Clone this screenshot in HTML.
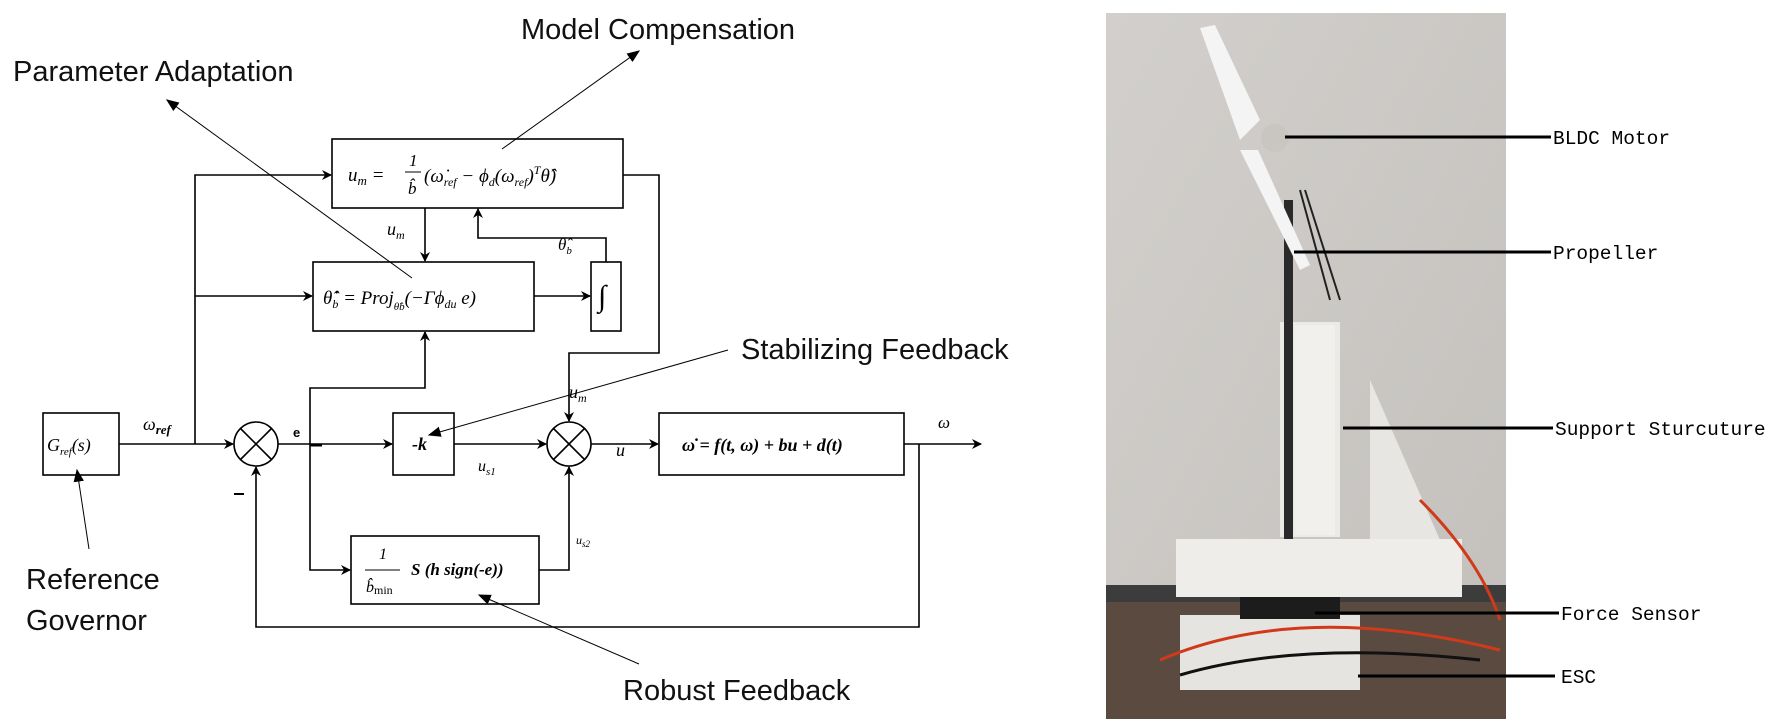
<!DOCTYPE html>
<html><head><meta charset="utf-8"><style>
html,body{margin:0;padding:0;background:#fff;}
svg{display:block;}
.lbl{font-family:"Liberation Sans",sans-serif;font-size:29px;fill:#111;}
.m{font-family:"Liberation Serif",serif;font-style:italic;fill:#000;}
.mono{font-family:"Liberation Mono",monospace;font-size:19.5px;fill:#000;}
</style></head><body>
<svg width="1775" height="724" viewBox="0 0 1775 724" xmlns="http://www.w3.org/2000/svg">
<defs>
<marker id="a" viewBox="0 0 10 10" refX="9" refY="5" markerWidth="10" markerHeight="10" orient="auto" markerUnits="userSpaceOnUse"><path d="M0,0 L10,5 L0,10 L3,5z" fill="#000"/></marker>
<marker id="t" viewBox="0 0 10 10" refX="9" refY="5" markerWidth="13" markerHeight="13" orient="auto" markerUnits="userSpaceOnUse"><path d="M0,1 L10,5 L0,9z" fill="#000"/></marker>
<linearGradient id="wall" x1="0" y1="0" x2="1" y2="1"><stop offset="0" stop-color="#d2cfcc"/><stop offset="1" stop-color="#c3c0bc"/></linearGradient>
</defs>
<text class="lbl" x="521" y="39">Model Compensation</text>
<text class="lbl" x="13" y="81">Parameter Adaptation</text>
<text class="lbl" x="741" y="359">Stabilizing Feedback</text>
<text class="lbl" x="26" y="589">Reference</text>
<text class="lbl" x="26" y="630">Governor</text>
<text class="lbl" x="623" y="700">Robust Feedback</text>
<g stroke="#000" stroke-width="1.6" fill="#fff">
<rect x="332" y="139" width="291" height="69"/>
<rect x="313" y="262" width="221" height="69"/>
<rect x="591" y="262" width="30" height="69"/>
<rect x="43" y="413" width="76" height="62"/>
<rect x="393" y="413" width="61" height="62"/>
<rect x="659" y="413" width="245" height="62"/>
<rect x="351" y="536" width="188" height="68"/>
<circle cx="256" cy="444" r="22"/>
<circle cx="569" cy="444" r="22"/>
</g>
<g stroke="#000" stroke-width="1.6">
<line x1="240" y1="428" x2="272" y2="460"/><line x1="272" y1="428" x2="240" y2="460"/>
<line x1="553" y1="428" x2="585" y2="460"/><line x1="585" y1="428" x2="553" y2="460"/>
</g>
<g stroke="#000" stroke-width="1.6" fill="none" marker-end="url(#a)">
<line x1="119" y1="444" x2="233" y2="444"/>
<polyline points="195,444 195,175 331,175"/>
<line x1="195" y1="296" x2="312" y2="296"/>
<line x1="278" y1="444" x2="392" y2="444"/>
<polyline points="310,444 310,388 425,388 425,332"/>
<polyline points="310,444 310,570 350,570"/>
<line x1="454" y1="444" x2="546" y2="444"/>
<polyline points="623,175 659,175 659,353 569,353 569,421"/>
<line x1="425" y1="208" x2="425" y2="261"/>
<polyline points="606,262 606,238 478,238 478,209"/>
<line x1="534" y1="296" x2="590" y2="296"/>
<line x1="591" y1="444" x2="658" y2="444"/>
<line x1="904" y1="444" x2="981" y2="444"/>
<polyline points="919,444 919,627 256,627 256,467"/>
<polyline points="539,570 569,570 569,467"/>
</g>
<line x1="310" y1="445" x2="322" y2="445" stroke="#000" stroke-width="3"/>
<line x1="234" y1="494" x2="244" y2="494" stroke="#000" stroke-width="2"/>
<text class="m" x="348" y="181" font-size="19">u<tspan font-size="13" dy="4">m</tspan><tspan dy="-4"> = </tspan></text>
<text class="m" x="409" y="166" font-size="17" font-style="normal">1</text>
<line x1="405" y1="172" x2="421" y2="172" stroke="#000" stroke-width="1"/>
<text class="m" x="408" y="194" font-size="17">b̂</text>
<text class="m" x="424" y="182" font-size="19">(ω̇<tspan font-size="12" dy="4">ref</tspan><tspan dy="-4"> − ϕ</tspan><tspan font-size="12" dy="4">d</tspan><tspan dy="-4">(ω</tspan><tspan font-size="12" dy="4">ref</tspan><tspan dy="-4">)</tspan><tspan font-size="12" dy="-8">T</tspan><tspan dy="8">θ̂)</tspan></text>
<text class="m" x="323" y="304" font-size="19">θ̂̇<tspan font-size="12" dy="4">b</tspan><tspan dy="-4"> = Proj</tspan><tspan font-size="11" dy="6">θ̂b</tspan><tspan dy="-6">(−Γϕ</tspan><tspan font-size="12" dy="4">du</tspan><tspan dy="-4"> e)</tspan></text>
<text class="m" x="598" y="306" font-size="30">∫</text>
<text class="m" x="387" y="235" font-size="18">u<tspan font-size="12" dy="4">m</tspan></text>
<text class="m" x="558" y="250" font-size="17">θ̂<tspan font-size="11" dy="4">b</tspan></text>
<text class="m" x="47" y="451" font-size="18">G<tspan font-size="11" dy="4">ref</tspan><tspan dy="-4">(s)</tspan></text>
<text class="m" x="143" y="430" font-size="18">ω<tspan font-size="13" dy="4" font-weight="bold">ref</tspan></text>
<text x="293" y="437" font-family="Liberation Sans,sans-serif" font-size="13" font-weight="bold">e</text>
<text class="m" x="412" y="450" font-size="18" font-weight="bold">-k</text>
<text class="m" x="478" y="471" font-size="16">u<tspan font-size="11" dy="4">s1</tspan></text>
<text class="m" x="569" y="398" font-size="18">u<tspan font-size="12" dy="4">m</tspan></text>
<text class="m" x="616" y="456" font-size="18">u</text>
<text class="m" x="576" y="544" font-size="12">u<tspan font-size="9" dy="3">s2</tspan></text>
<text class="m" x="682" y="451" font-size="18" font-weight="bold">ω̇ = f(t, ω) + bu + d(t)</text>
<text class="m" x="938" y="428" font-size="17">ω</text>
<text class="m" x="379" y="559" font-size="16" font-style="normal">1</text>
<line x1="365" y1="570" x2="400" y2="570" stroke="#000" stroke-width="1"/>
<text class="m" x="366" y="592" font-size="16">b̂<tspan font-size="12" dy="2" font-style="normal">min</tspan></text>
<text class="m" x="411" y="575" font-size="17" font-weight="bold">S (h sign(-e))</text>
<g stroke="#000" stroke-width="1" fill="none" marker-end="url(#t)">
<line x1="502" y1="149" x2="639" y2="51"/>
<line x1="412" y1="278" x2="167" y2="100"/>
<line x1="728" y1="350" x2="429" y2="435"/>
<line x1="639" y1="664" x2="479" y2="595"/>
<line x1="89" y1="549" x2="77" y2="470"/>
</g>
<!-- photo -->
<rect x="1106" y="13" width="400" height="706" fill="url(#wall)"/>
<rect x="1106" y="600" width="400" height="119" fill="#5a4a40"/>
<rect x="1106" y="585" width="400" height="17" fill="#3c3c3c"/>
<polygon points="1370,380 1440,540 1370,545" fill="#e8e6e2"/>
<rect x="1280" y="322" width="60" height="215" fill="#eceae6"/>
<rect x="1295" y="325" width="40" height="210" fill="#f2f0ec"/>
<rect x="1284" y="200" width="9" height="340" fill="#2a2a2a"/>
<rect x="1176" y="539" width="286" height="58" fill="#efede9"/>
<rect x="1180" y="615" width="180" height="75" fill="#e6e4e0"/>
<rect x="1240" y="597" width="100" height="22" fill="#1c1c1c"/>
<polygon points="1200,28 1215,25 1260,120 1240,140" fill="#f4f4f4"/>
<polygon points="1240,150 1258,150 1310,265 1300,270" fill="#f4f4f4"/>
<circle cx="1275" cy="138" r="14" fill="#c9c6c2"/>
<path d="M1300,190 L1330,300 M1305,190 L1340,300" stroke="#222" stroke-width="2" fill="none"/>
<path d="M1420,500 Q1480,560 1500,620 M1160,660 Q1300,600 1500,650" stroke="#d03a1a" stroke-width="3" fill="none"/>
<path d="M1180,675 Q1300,640 1480,660" stroke="#111" stroke-width="3" fill="none"/>
<g stroke="#000" stroke-width="3">
<line x1="1285" y1="137" x2="1551" y2="137"/>
<line x1="1294" y1="252" x2="1551" y2="252"/>
<line x1="1343" y1="428" x2="1553" y2="428"/>
<line x1="1315" y1="613" x2="1559" y2="613"/>
<line x1="1358" y1="676" x2="1555" y2="676"/>
</g>
<text class="mono" x="1553" y="144">BLDC Motor</text>
<text class="mono" x="1553" y="259">Propeller</text>
<text class="mono" x="1555" y="435">Support Sturcuture</text>
<text class="mono" x="1561" y="620">Force Sensor</text>
<text class="mono" x="1561" y="683">ESC</text>
</svg>
</body></html>
